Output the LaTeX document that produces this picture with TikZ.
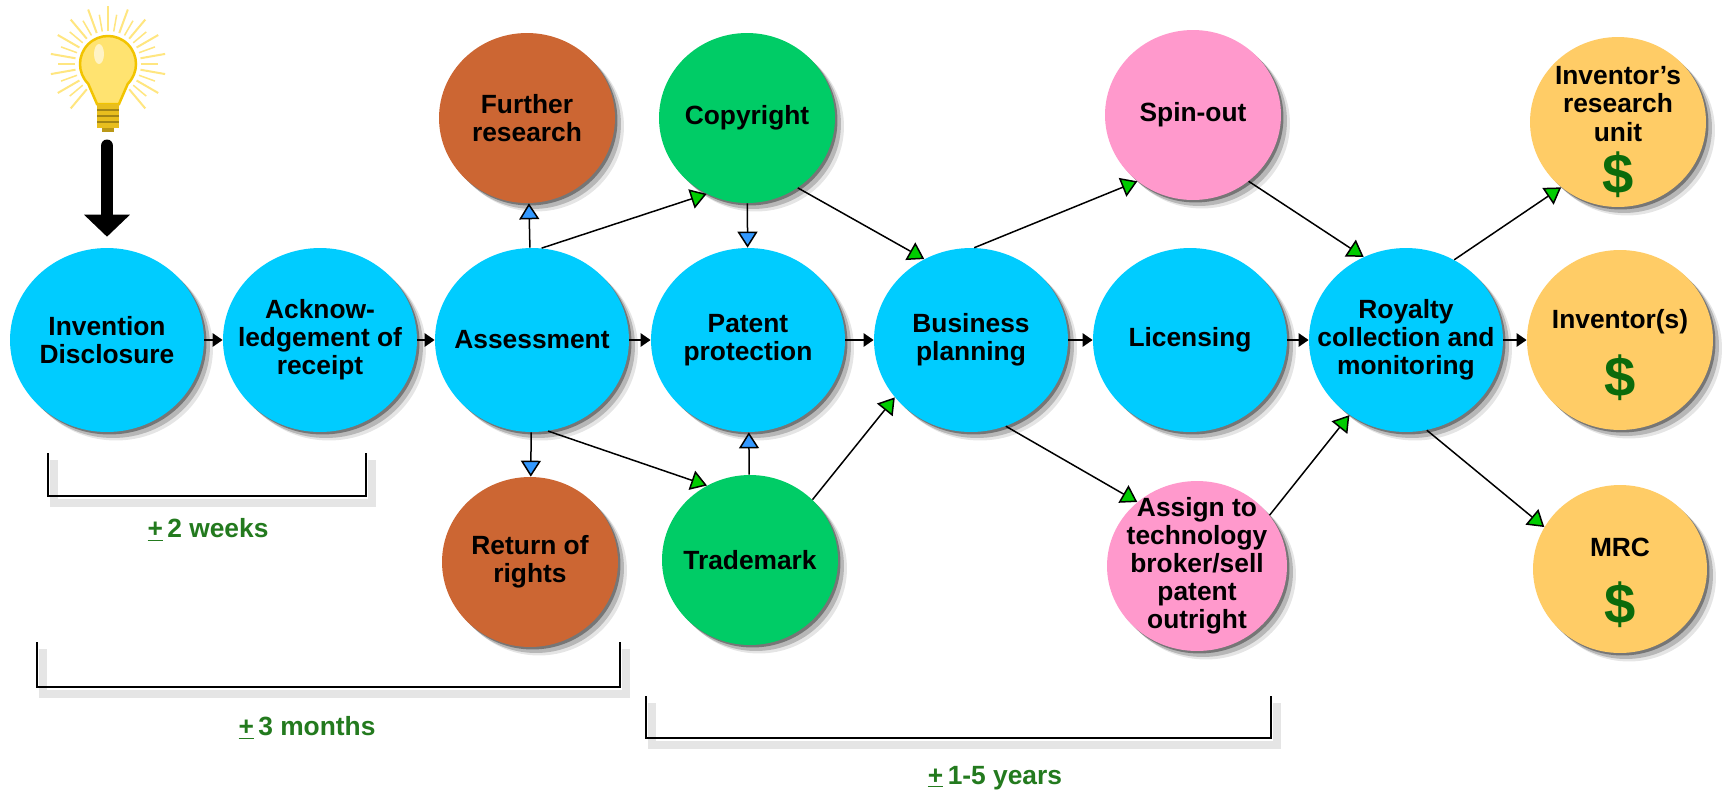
\documentclass[tikz,border=0pt]{standalone}
\usepackage{fontspec}
\setmainfont{Liberation Sans}
\usetikzlibrary{positioning,shapes.geometric,arrows.meta,shadows}

\definecolor{stageblue}{HTML}{00CCFF}
\definecolor{rust}{HTML}{CC6633}
\definecolor{ipgreen}{HTML}{00CC66}
\definecolor{dealpink}{HTML}{FF99CC}
\definecolor{payyellow}{HTML}{FFCC66}
\definecolor{cashgreen}{HTML}{0B6B0B}
\definecolor{spangreen}{HTML}{237A1E}
\definecolor{tipblue}{HTML}{3399FF}
\definecolor{tipgreen}{HTML}{00CC00}
\definecolor{glass}{HTML}{FFE370}
\definecolor{glassrim}{HTML}{F2C400}
\definecolor{rays}{HTML}{FFE680}
\definecolor{screw}{HTML}{E8BE1E}

\tikzset{
	txt/.style={font=\bfseries\fontsize{15}{16}\selectfont, align=center},
	soft/.style={drop shadow={shadow xshift=.05cm, shadow yshift=-.05cm, opacity=.35, fill=black},
	             drop shadow={shadow xshift=.12cm, shadow yshift=-.12cm, opacity=.2, fill=black},
	             drop shadow={shadow xshift=.18cm, shadow yshift=-.17cm, opacity=.1, fill=black}},
	stage/.style={txt, ellipse, fill=stageblue, minimum width=3.88cm, minimum height=3.68cm, inner sep=-.6cm, soft},
	side/.style={txt, ellipse, minimum width=3.52cm, minimum height=3.4cm, inner sep=-.6cm, soft},
	payee/.style={side, fill=payyellow},
	dollar/.style={font=\bfseries\fontsize{32}{32}\selectfont, text=cashgreen},
	flow/.style={-{Triangle[length=.2cm, width=.26cm]}, line width=.05cm},
	feed/.style={-{Triangle[length=.32cm, width=.4cm, fill=tipblue]}, line width=.03cm},
	link/.style={-{Triangle[length=.32cm, width=.4cm, fill=tipgreen]}, line width=.03cm},
	span/.style={line width=.04cm, preaction={draw=black!10, line width=.16cm, transform canvas={shift={(.12cm,-.14cm)}}}},
	spanlabel/.style={txt, text=spangreen},
}

\begin{document}
\begin{tikzpicture}[x=.02cm, y=-.02cm]

\fill[white] (0,0) rectangle (1729,795);
\useasboundingbox (0,0) rectangle (1729,795);

% lamp
\foreach \a in {-50,-30,...,230}
	\draw[rays, line width=.04cm] (108,64) ++(\a:.66cm) -- ++(\a:.5cm);
\foreach \a in {-40,-20,...,220}
	\draw[rays, line width=.03cm] (108,64) ++(\a:.66cm) -- ++(\a:.34cm);
\filldraw[fill=glass, draw=glassrim, line width=.05cm] (108,64) ++(225:.56cm)
	arc[start angle=225, end angle=-45, radius=.56cm] -- (119,104) -- (97,104) -- cycle;
\fill[white, opacity=.6] (99,54) ellipse [x radius=.1cm, y radius=.2cm];
\fill[screw] (97,104) rectangle (119,128);
\foreach \s in {110,116,122}
	\draw[screw!70!black, line width=.03cm] (97,\s) -- (119,\s);
\fill[screw!80!black] (102,128) rectangle (114,132);
\coordinate (bulb) at (107,146);

\node[stage] (inv) at (107,340) {Invention\\Disclosure};
\node[stage] (ack) at (320,340) {Acknow-\\ledgement of\\receipt};
\node[stage] (ass) at (532,340) {Assessment};
\node[stage] (pat) at (748,340) {Patent\\protection};
\node[stage] (bus) at (971,340) {Business\\planning};
\node[stage] (lic) at (1190,340) {Licensing};
\node[stage] (roy) at (1406,340) {Royalty\\collection and\\monitoring};
\node[payee, minimum width=3.72cm, minimum height=3.6cm] (invs) at (1620,340) {};

\node[side, fill=rust] (fur) at (527,118) {Further\\research};
\node[side, fill=ipgreen] (cop) at (747,118) {Copyright};
\node[side, fill=dealpink] (spin) at (1193,115) {Spin-out};
\node[payee] (iru) at (1618,122) {};

\node[side, fill=rust] (ret) at (530,562) {Return of\\rights};
\node[side, fill=ipgreen] (tra) at (750,560) {Trademark};
\node[side, fill=dealpink, minimum width=3.6cm] (asg) at (1197,566) {Assign to\\technology\\broker/sell\\patent\\outright};
\node[payee, minimum width=3.48cm, minimum height=3.36cm] (mrc) at (1620,569) {};

% payees
\node[txt] (iru-name) at ([yshift=.36cm]iru.center) {Inventor's\\research\\unit};
\node[dollar] (iru-usd) at ([yshift=-1.06cm]iru.center) {\$};
\node[txt] (invs-name) at ([yshift=.36cm]invs.center) {Inventor(s)};
\node[dollar] (invs-usd) at ([yshift=-.76cm]invs.center) {\$};
\node[txt] (mrc-name) at ([yshift=.44cm]mrc.center) {MRC};
\node[dollar] (mrc-usd) at ([yshift=-.72cm]mrc.center) {\$};

\draw[line width=.26cm, line cap=round, shorten >=.22cm, -{Triangle[length=.44cm, width=.92cm, line width=0pt]}] (bulb) -- (inv.north);

\draw[flow] (inv) -- (ack);
\draw[flow] (ack) -- (ass);
\draw[flow] (ass) -- (pat);
\draw[flow] (pat) -- (bus);
\draw[flow] (bus) -- (lic);
\draw[flow] (lic) -- (roy);
\draw[flow] (roy) -- (invs);

\draw[feed] (ass) -- (fur);
\draw[feed] (ass) -- (ret);
\draw[feed] (cop) -- (pat);
\draw[feed] (tra) -- (pat);

\draw[link] (ass.84) -- (cop.242);
\draw[link] (ass.280) -- (tra.120);
\draw[link] (cop.306) -- (bus.120);
\draw[link] (tra.44) -- (bus.217);
\draw[link] (bus.88) -- (spin.230);
\draw[link] (bus.292) -- (asg.133);
\draw[link] (spin.310) -- (roy.117);
\draw[link] (asg.35) -- (roy.233);
\draw[link] (roy.59) -- (iru.229);
\draw[link] (roy.283) -- (mrc.151);

% time spans
\draw[span] (48,453) |- (366,496) -- (366,453);
\node[spanlabel] (weeks) at (208,530) {\underline{+}\,2 weeks};
\draw[span] (37,642) |- (620,687) -- (620,642);
\node[spanlabel] (months) at (307,728) {\underline{+}\,3 months};
\draw[span] (646,696) |- (1271,738) -- (1271,696);
\node[spanlabel] (years) at (995,778) {\underline{+}\,1-5 years};

\end{tikzpicture}
\end{document}
